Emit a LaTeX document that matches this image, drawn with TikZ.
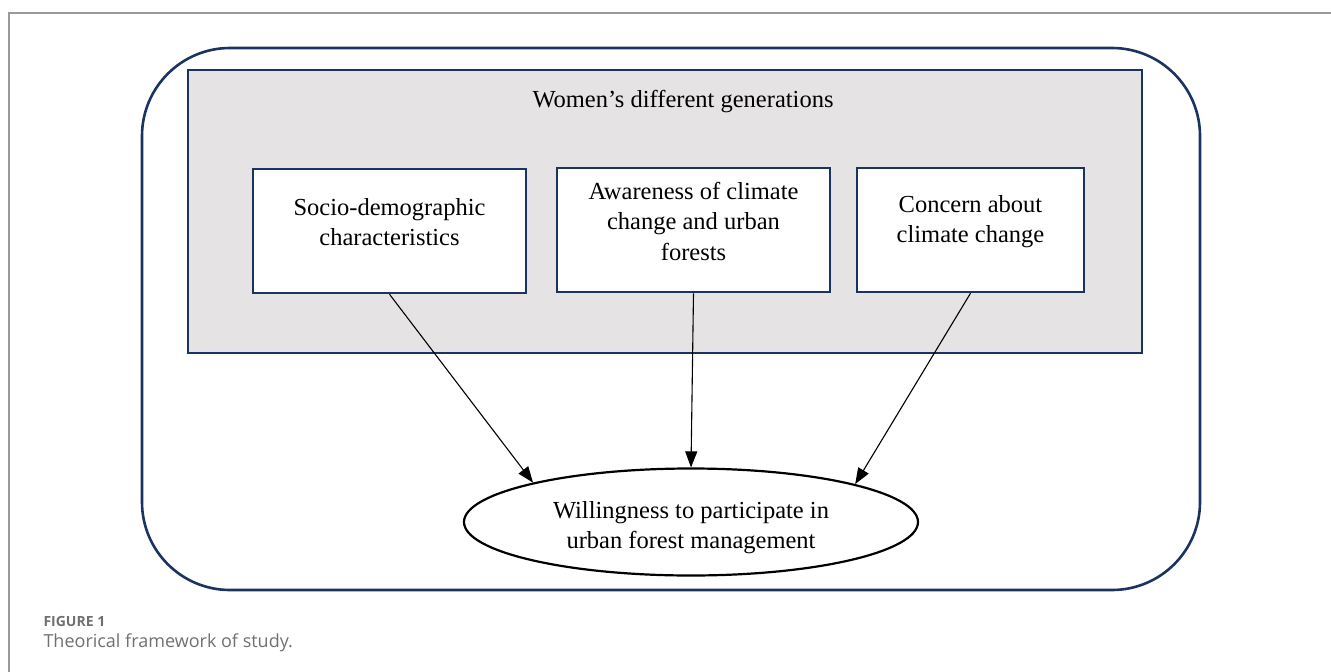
\documentclass[tikz,border=0pt]{standalone}
\usepackage{fontspec}
\setmainfont{Liberation Serif}
\newfontfamily\capfont{Open Sans}
\usetikzlibrary{shapes.geometric,arrows.meta}
\definecolor{navy}{HTML}{1B3361}
\definecolor{boxgray}{HTML}{E5E3E4}
\definecolor{capgray}{HTML}{707070}
\definecolor{framegray}{HTML}{9A9A9A}

\begin{document}
\begin{tikzpicture}
    [x=1pt,y=-1pt,
     every node/.style={font=\fontsize{24.5}{30.5}\selectfont},
     factor/.style={draw=navy,line width=2.5pt,fill=white,align=center,
       minimum height=124pt,text depth=18pt,inner sep=0pt},
     arrow/.style={-{Triangle[length=16pt,width=12pt]},line width=1.1pt}]
    \useasboundingbox (0,0) rectangle (1331,672);

    % page frame
    \draw [framegray, line width=1.2pt] (9,672) -- (9,13) -- (1331,13);

    % outer and grey frames
    \draw [navy, line width=2.6pt, rounded corners=88pt] (142,48) rectangle (1200,590);
    \draw [navy, line width=2.6pt, fill=boxgray] (188,70) rectangle (1142,353);

    \node (gen) at (683,102) {Women's different generations};

    \node[factor, minimum width=273pt] (socio) at (389.5,231) {Socio-demographic\\characteristics};
    \node[factor, minimum width=273pt] (aware) at (693.5,230) {Awareness of climate\\change and urban\\forests};
    \node[factor, minimum width=227pt, text depth=22pt] (concern) at (970.5,230) {Concern about\\climate change};

    \node[ellipse, draw, line width=2.2pt, minimum width=454pt, minimum height=107pt,
          align=center, inner sep=0pt, text height=59pt] (will) at (691,522)
          {Willingness to participate in\\urban forest management};

    \draw [arrow] (socio.south) -- (will.166);
    \draw [arrow] (aware.south) -- (will.90);
    \draw [arrow] (concern.south) -- (will.13);

    % caption
    \node[anchor=west, capgray, font=\capfont\fontsize{14}{16}\selectfont\bfseries] (fig) at (40,621) {FIGURE 1};
    \node[anchor=west, capgray, font=\capfont\fontsize{18}{21}\selectfont] (cap) at (40,643) {Theorical framework of study.};
\end{tikzpicture}
\end{document}
